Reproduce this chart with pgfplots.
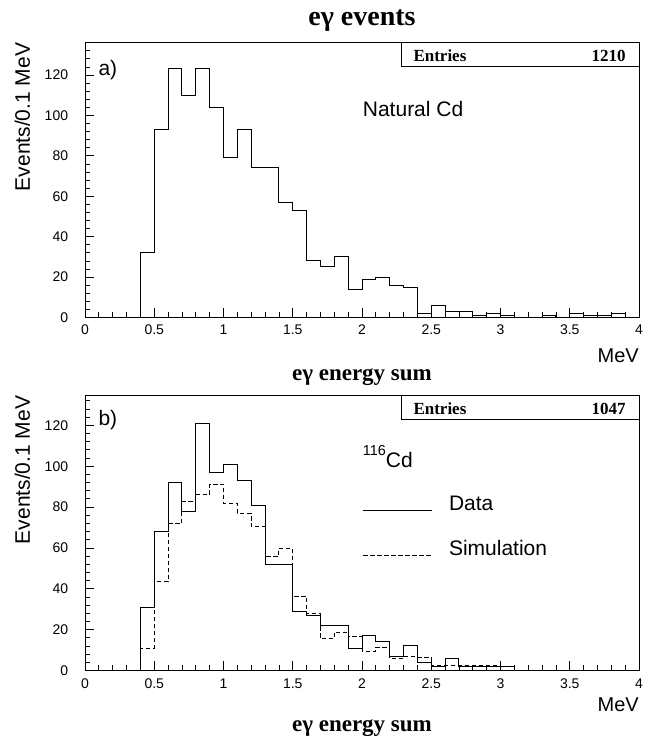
\documentclass[border=0pt]{standalone}
\usepackage{fontspec}
\setmainfont{Liberation Serif}
\setsansfont{Liberation Sans}
\usepackage{pgfplots}
\pgfplotsset{compat=1.18}

\pgfplotsset{
  rootstyle/.style={
    scale only axis, width=554pt, height=274.8pt,
    xmin=0, xmax=4, ymin=0, clip=false,
    axis line style={line width=1pt},
    xtick={0,0.5,...,4}, minor xtick={0,0.1,...,4},
    ytick={0,20,...,120}, minor ytick={0,4,...,132},
    xtick pos=left, ytick pos=left, tick align=inside,
    major tick length=9pt, minor tick length=5pt,
    tick style={black, line width=0.8pt},
    /pgf/number format/assume math mode=true,
    scaled ticks=false,
    tick label style={font=\sffamily\fontsize{14}{14}\selectfont},
    xticklabel style={anchor=base, inner sep=0pt, yshift=-17.5pt},
    yticklabel style={anchor=east, inner sep=0pt, xshift=-16.7pt},
    every axis y label/.style={at={(rel axis cs:-0.0993,1)}, rotate=90, anchor=base east, inner sep=0pt, font=\sffamily\fontsize{21}{21}\selectfont},
    ylabel={Events/0.1 MeV},
  },
  hist/.style={const plot, line width=1pt, black},
}

\begin{document}
\begin{tikzpicture}
\path[use as bounding box] (0,0) rectangle (653pt,742pt);
\node[anchor=base, inner sep=0pt, font=\bfseries\fontsize{28}{28}\selectfont] at (362pt,716pt) {eγ events};

% ---------- top panel ----------
\begin{axis}[rootstyle, at={(85pt,424.5pt)}, anchor=south west, ymax=136]
\addplot[hist] coordinates {
(0,0) (0.4,32) (0.5,93) (0.6,123) (0.7,110) (0.8,123) (0.9,104) (1.0,79) (1.1,93) (1.2,74) (1.3,74)
(1.4,57) (1.5,53) (1.6,28) (1.7,25) (1.8,30) (1.9,14) (2.0,19) (2.1,20) (2.2,16) (2.3,15)
(2.4,2) (2.5,6) (2.6,3) (2.7,3) (2.8,1) (2.9,2) (3.0,1) (3.1,0) (3.2,0) (3.3,1) (3.4,0)
(3.5,2) (3.6,1) (3.7,1) (3.8,2) (3.9,0) (4.0,0)};
\draw[line width=1pt, fill=white] ([xshift=-237.3pt, yshift=-24pt]rel axis cs:1,1) rectangle (rel axis cs:1,1);
\node[anchor=west, inner sep=0pt, font=\bfseries\fontsize{17}{17}\selectfont] at ([xshift=-225.7pt, yshift=-13pt]rel axis cs:1,1) {Entries};
\node[anchor=east, inner sep=0pt, font=\bfseries\fontsize{17}{17}\selectfont] at ([xshift=-13.3pt, yshift=-13pt]rel axis cs:1,1) {1210};
\node[anchor=west, inner sep=0pt, font=\sffamily\fontsize{21}{21}\selectfont] at ([xshift=13.3pt, yshift=-27.3pt]rel axis cs:0,1) {a)};
\node[anchor=base west, inner sep=0pt, font=\sffamily\fontsize{21}{21}\selectfont] at ([xshift=277.7pt, yshift=-74pt]rel axis cs:0,1) {Natural Cd};
\node[anchor=base east, inner sep=0pt, font=\sffamily\fontsize{20}{20}\selectfont] at ([yshift=-45.5pt]rel axis cs:1,0) {MeV};
\node[anchor=base, inner sep=0pt, font=\bfseries\fontsize{23}{23}\selectfont] at ([yshift=-63.5pt]rel axis cs:0.5,0) {eγ energy sum};
\end{axis}

% ---------- bottom panel ----------
\begin{axis}[rootstyle, at={(85pt,71.5pt)}, anchor=south west, ymax=134.5,
  legend style={draw=none, fill=none, at={(rel axis cs:0.5013,0.6455)}, anchor=north west,
    inner sep=0pt, outer sep=0pt, row sep=25pt, column sep=14.3pt,
    font=\sffamily\fontsize{21}{21}\selectfont,
    cells={anchor=base west, inner sep=0pt, text height=15pt, text depth=0pt}},
  legend image code/.code={\draw[#1] (0pt,0pt) -- (69pt,0pt);}]
\addplot[hist] coordinates {
(0,0) (0.4,31) (0.5,68) (0.6,92) (0.7,78) (0.8,121) (0.9,97) (1.0,101) (1.1,93) (1.2,81) (1.3,52)
(1.4,52) (1.5,29) (1.6,27) (1.7,22) (1.8,22) (1.9,11) (2.0,17) (2.1,14) (2.2,7) (2.3,12)
(2.4,4) (2.5,2) (2.6,6) (2.7,2) (2.8,2) (2.9,2) (3.0,2) (3.1,0) (4.0,0)};
\addlegendentry{Data}
\addplot[hist, dash pattern=on 4.5pt off 2.5pt] coordinates {
(0.4,0) (0.4,11) (0.5,43.4) (0.6,72) (0.7,82.7) (0.8,86) (0.9,91.2) (1.0,81.8) (1.1,76.9) (1.2,70.4) (1.3,55.6)
(1.4,59.7) (1.5,36.3) (1.6,27.8) (1.7,15.5) (1.8,18.8) (1.9,16.4) (2.0,9.3) (2.1,11.5) (2.2,6) (2.3,6.9)
(2.4,6.5) (2.5,2.5) (2.6,2.5) (2.7,2.5) (2.8,2.5) (2.9,2.5) (3.0,2) (3.1,0)};
\addlegendentry{Simulation}
\draw[line width=1pt, fill=white] ([xshift=-237.3pt, yshift=-23.6pt]rel axis cs:1,1) rectangle (rel axis cs:1,1);
\node[anchor=west, inner sep=0pt, font=\bfseries\fontsize{17}{17}\selectfont] at ([xshift=-225.7pt, yshift=-13pt]rel axis cs:1,1) {Entries};
\node[anchor=east, inner sep=0pt, font=\bfseries\fontsize{17}{17}\selectfont] at ([xshift=-13.3pt, yshift=-13pt]rel axis cs:1,1) {1047};
\node[anchor=west, inner sep=0pt, font=\sffamily\fontsize{21}{21}\selectfont] at ([xshift=13.3pt, yshift=-24.3pt]rel axis cs:0,1) {b)};
\node[anchor=base west, inner sep=0pt, font=\sffamily\fontsize{21}{21}\selectfont] at ([xshift=277.7pt, yshift=-71.6pt]rel axis cs:0,1) {\raisebox{12pt}{\fontsize{14.4}{14.4}\selectfont 116}Cd};
\node[anchor=base east, inner sep=0pt, font=\sffamily\fontsize{20}{20}\selectfont] at ([yshift=-41pt]rel axis cs:1,0) {MeV};
\node[anchor=base, inner sep=0pt, font=\bfseries\fontsize{23}{23}\selectfont] at ([yshift=-61pt]rel axis cs:0.5,0) {eγ energy sum};
\end{axis}
\end{tikzpicture}
\end{document}
